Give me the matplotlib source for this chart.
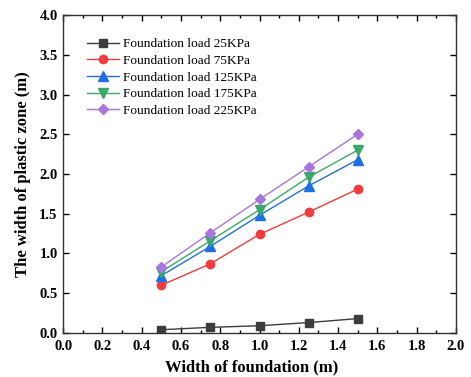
import matplotlib
matplotlib.use("Agg")
import matplotlib.pyplot as plt
from matplotlib.ticker import MultipleLocator

widths = [0.5, 0.75, 1.0, 1.25, 1.5]
load_25 = [0.04, 0.07, 0.09, 0.13, 0.18]
load_75 = [0.60, 0.87, 1.24, 1.52, 1.81]
load_125 = [0.72, 1.09, 1.48, 1.85, 2.18]
load_175 = [0.77, 1.16, 1.55, 1.96, 2.30]
load_225 = [0.83, 1.26, 1.68, 2.09, 2.50]
labels = ["Foundation load 25KPa", "Foundation load 75KPa", "Foundation load 125KPa",
          "Foundation load 175KPa", "Foundation load 225KPa"]
xticks = [0.0, 0.2, 0.4, 0.6, 0.8, 1.0, 1.2, 1.4, 1.6, 1.8, 2.0]
yticks = [0.0, 0.5, 1.0, 1.5, 2.0, 2.5, 3.0, 3.5, 4.0]

series = [load_25, load_75, load_125, load_175, load_225]
colors = ["#3c3c3c", "#f03c3c", "#1f6ee6", "#3aa86a", "#a875e0"]
markers = ["s", "o", "^", "v", "D"]
msizes = [5.5, 6, 6.5, 6.5, 5.5]

plt.rcParams['font.family'] = ['Liberation Serif', 'DejaVu Serif']

fig = plt.figure(figsize=(4.71, 3.77), dpi=100)
ax = fig.add_axes([0.134, 0.117, 0.834, 0.843])

for y, c, m, ms, lab in zip(series, colors, markers, msizes, labels):
    ax.plot(widths, y, color=c, marker=m, markersize=ms, linewidth=1.0, label=lab)

ax.set_xlim(0, 2.0)
ax.set_ylim(0, 4.0)
ax.set_xticks(xticks)
ax.set_xticklabels([f"{v:.1f}" for v in xticks], fontweight='bold')
ax.xaxis.set_minor_locator(MultipleLocator(0.1))
ax.set_yticks(yticks)
ax.set_yticklabels([f"{v:.1f}" for v in yticks], fontweight='bold')
ax.tick_params(which='both', direction='in', top=True, right=True)
ax.tick_params(which='major', length=4, width=1)
ax.tick_params(which='minor', length=2.5, width=1)
ax.tick_params(axis='both', labelsize=10.5)
ax.tick_params(axis='x', pad=5)
ax.tick_params(axis='y', pad=4)
for s in ax.spines.values():
    s.set_linewidth(1.0)
    s.set_color('#333333')

ax.set_xlabel("Width of foundation (m)", fontsize=12, fontweight='bold')
ax.xaxis.set_label_coords(0.48, -0.082)
ax.set_ylabel("The width of plastic zone (m)", fontsize=12, fontweight='bold', labelpad=6)

ax.legend(loc='upper left', bbox_to_anchor=(0.048, 0.945), frameon=False, fontsize=9.6,
          handlelength=2.4, handletextpad=0.3, labelspacing=0.33, borderaxespad=0)

fig.savefig("out.png", dpi=100)
